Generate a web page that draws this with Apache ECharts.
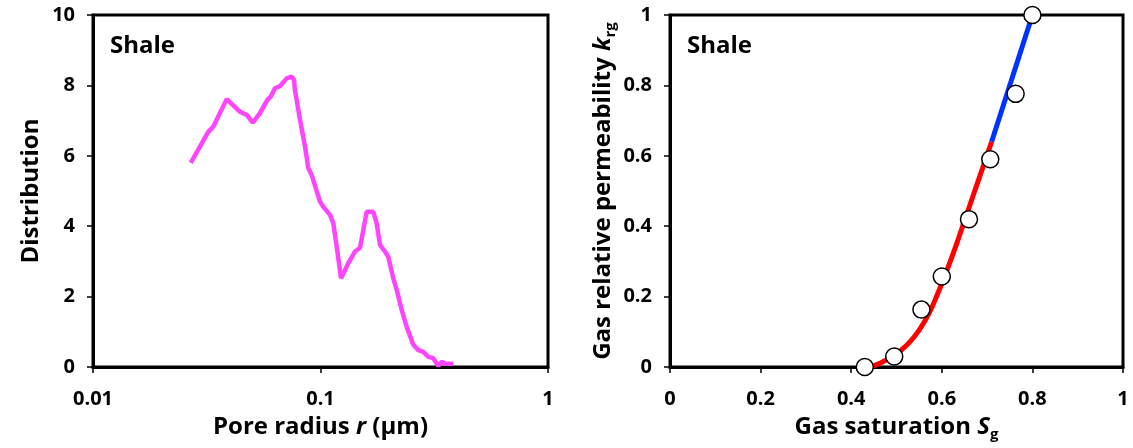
<!DOCTYPE html>
<html>
<head>
<meta charset="utf-8">
<script src="https://cdn.jsdelivr.net/npm/echarts@6/dist/echarts.min.js"></script>
<style>
  html, body { margin: 0; padding: 0; background: #fff; }
  #chart { width: 1133px; height: 448px; }
</style>
</head>
<body>
<div id="chart"></div>
<script>
// left panel: pore size distribution
const poreRadius = [0.0269, 0.0321, 0.0338, 0.0387, 0.0443, 0.0474, 0.0504, 0.0542, 0.0584, 0.0604,
  0.0631, 0.0664, 0.0710, 0.0747, 0.0765, 0.0772, 0.0813, 0.0855, 0.0884, 0.0915, 0.0995, 0.1029,
  0.1101, 0.1139, 0.1178, 0.1231, 0.1325, 0.1418, 0.1492, 0.1542, 0.1596, 0.1706, 0.1766, 0.1826,
  0.1921, 0.1986, 0.2089, 0.2163, 0.2275, 0.2393, 0.2558, 0.2691, 0.2830, 0.2977, 0.3131, 0.3295,
  0.3410, 0.3526, 0.3835]
const distribution = [5.80, 6.68, 6.83, 7.61, 7.25, 7.16, 6.94, 7.21, 7.59, 7.68,
  7.92, 7.98, 8.20, 8.25, 8.15, 7.87, 7.02, 6.26, 5.65, 5.45, 4.70, 4.55,
  4.32, 4.08, 3.42, 2.52, 2.95, 3.28, 3.39, 3.89, 4.41, 4.41, 4.08, 3.47,
  3.28, 3.13, 2.52, 2.19, 1.62, 1.14, 0.63, 0.48, 0.43, 0.29, 0.25, 0.03,
  0.15, 0.09, 0.09]

// right panel: gas relative permeability
const satMeasured = [0.43, 0.495, 0.555, 0.60, 0.66, 0.707, 0.763, 0.80]
const krgMeasured = [0.0, 0.03, 0.163, 0.257, 0.42, 0.59, 0.776, 1.0]
const satFitLow = [0.43, 0.45, 0.47, 0.49, 0.51, 0.53, 0.55, 0.57, 0.59, 0.61, 0.63, 0.65, 0.67, 0.69, 0.71]
const krgFitLow = [0.0, 0.004, 0.015, 0.030, 0.048, 0.072, 0.105, 0.148, 0.205, 0.27, 0.34, 0.415, 0.49, 0.565, 0.64]
const satFitHigh = [0.71, 0.80]
const krgFitHigh = [0.64, 1.0]

const yTicksLeft = [0, 2, 4, 6, 8, 10]
const yTicksRight = [0, 0.2, 0.4, 0.6, 0.8, 1]

const FONT = 'Open Sans'
const zip = (a, b) => a.map((v, i) => [v, b[i]])

const tickLabel = { fontFamily: FONT, fontWeight: 'bold', fontSize: 20, color: '#000' }
const nameStyle = {
  fontFamily: FONT, fontWeight: 'bold', fontSize: 24, color: '#000',
  rich: {
    a: { fontFamily: FONT, fontWeight: 'bold', fontSize: 24, color: '#000', lineHeight: 30 },
    i: { fontFamily: FONT, fontWeight: 'bold', fontStyle: 'italic', fontSize: 24, color: '#000', lineHeight: 30 },
    s: { fontFamily: FONT, fontWeight: 'bold', fontSize: 15, color: '#000', lineHeight: 30, verticalAlign: 'bottom', padding: [12, 0, 0, 0] }
  }
}
const axisLine = { show: true, lineStyle: { color: '#000', width: 3 } }
const axisTick = { show: true, inside: false, length: 6, lineStyle: { color: '#000', width: 1.5 } }

const chart = echarts.init(document.getElementById('chart'))
const option = {
  animation: false,
  backgroundColor: '#fff',
  grid: [
    { left: 93, right: 585, top: 15, bottom: 81, show: true, borderColor: '#000', borderWidth: 3, containLabel: false },
    { left: 670, right: 10, top: 15, bottom: 81, show: true, borderColor: '#000', borderWidth: 3, containLabel: false }
  ],
  xAxis: [
    {
      gridIndex: 0, type: 'log', logBase: 10, min: 0.01, max: 1,
      name: '{a|Pore radius }{i|r}{a| (μm)}', nameLocation: 'middle', nameGap: 45, nameTextStyle: nameStyle,
      axisLine, axisTick, minorTick: { show: false }, splitLine: { show: false },
      axisLabel: Object.assign({ margin: 22, formatter: v => String(v) }, tickLabel)
    },
    {
      gridIndex: 1, type: 'value', min: 0, max: 1, interval: 0.2,
      name: '{a|Gas saturation }{i|S}{s|g}', nameLocation: 'middle', nameGap: 45, nameTextStyle: nameStyle,
      axisLine, axisTick, splitLine: { show: false },
      axisLabel: Object.assign({ margin: 22, formatter: v => String(+v.toFixed(1)) }, tickLabel)
    }
  ],
  yAxis: [
    {
      gridIndex: 0, type: 'value', min: yTicksLeft[0], max: yTicksLeft[yTicksLeft.length - 1], interval: 2,
      name: 'Distribution', nameLocation: 'middle', nameGap: 50, nameRotate: 90, nameTextStyle: nameStyle,
      axisLine, axisTick, splitLine: { show: false },
      axisLabel: Object.assign({ margin: 18 }, tickLabel)
    },
    {
      gridIndex: 1, type: 'value', min: yTicksRight[0], max: yTicksRight[yTicksRight.length - 1], interval: 0.2,
      name: '{a|Gas relative permeability }{i|k}{s|rg}', nameLocation: 'middle', nameGap: 52, nameRotate: 90, nameTextStyle: nameStyle,
      axisLine, axisTick, splitLine: { show: false },
      axisLabel: Object.assign({ margin: 18, formatter: v => String(+v.toFixed(1)) }, tickLabel)
    }
  ],
  graphic: [
    { type: 'text', left: 110, top: 34, style: { text: 'Shale', font: `bold 24px ${FONT}`, fill: '#000' } },
    { type: 'text', left: 687, top: 34, style: { text: 'Shale', font: `bold 24px ${FONT}`, fill: '#000' } }
  ],
  series: [
    {
      type: 'line', xAxisIndex: 0, yAxisIndex: 0, data: zip(poreRadius, distribution),
      showSymbol: false, lineStyle: { color: '#ff44ff', width: 4.5 }
    },
    {
      type: 'line', xAxisIndex: 1, yAxisIndex: 1, data: zip(satFitLow, krgFitLow), smooth: true,
      showSymbol: false, lineStyle: { color: '#ff0000', width: 5 }
    },
    {
      type: 'line', xAxisIndex: 1, yAxisIndex: 1, data: zip(satFitHigh, krgFitHigh),
      showSymbol: false, lineStyle: { color: '#0033ff', width: 5 }
    },
    {
      type: 'scatter', xAxisIndex: 1, yAxisIndex: 1, data: zip(satMeasured, krgMeasured),
      symbol: 'circle', symbolSize: 17, z: 5,
      itemStyle: { color: '#fff', opacity: 1, borderColor: '#000', borderWidth: 1.5 }
    }
  ]
}
chart.setOption(option)
</script>
</body>
</html>
